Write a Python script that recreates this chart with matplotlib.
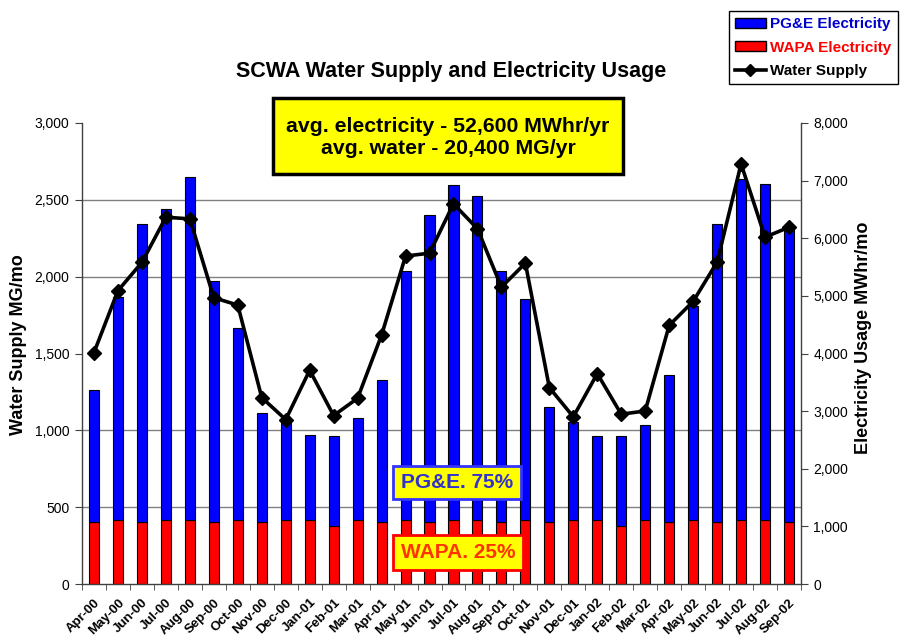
"""
SCWA water supply vs. electricity usage, Apr-2000 .. Sep-2002.

Stacked monthly electricity (WAPA + PG&E, right axis) with the monthly
water supply line on the left axis.  Writes out.png.
"""

import numpy as np
import matplotlib
matplotlib.use("Agg")           # headless
import matplotlib.pyplot as plt
from matplotlib.lines import Line2D
from matplotlib.patches import Patch, Rectangle
from matplotlib.ticker import FixedLocator, FuncFormatter, MultipleLocator
from matplotlib.transforms import ScaledTranslation

# ── Data ───────────────────────────────────────────────────────────────────
MONTHS = ["Apr-00", "May-00", "Jun-00", "Jul-00", "Aug-00", "Sep-00",
          "Oct-00", "Nov-00", "Dec-00", "Jan-01", "Feb-01", "Mar-01",
          "Apr-01", "May-01", "Jun-01", "Jul-01", "Aug-01", "Sep-01",
          "Oct-01", "Nov-01", "Dec-01", "Jan-02", "Feb-02", "Mar-02",
          "Apr-02", "May-02", "Jun-02", "Jul-02", "Aug-02", "Sep-02"]

# electricity, MWhr/mo
WAPA_MWH = [1070, 1110, 1070, 1110, 1110, 1070, 1110, 1070, 1110, 1110,
            1000, 1110, 1070, 1110, 1070, 1110, 1110, 1070, 1110, 1070,
            1110, 1110, 1000, 1110, 1070, 1110, 1070, 1110, 1110, 1070]
PGE_MWH = [2292, 3869, 5169, 5389, 5961, 4193, 3339, 1906, 1680, 1484,
           1571, 1773, 2471, 4320, 5325, 5810, 5626, 4360, 3835, 2003,
           1709, 1455, 1577, 1651, 2564, 3720, 5181, 5921, 5834, 5146]

# water supply, MG/mo
WATER_MG = [1506, 1909, 2093, 2387, 2376, 1863, 1815, 1213, 1070, 1391,
            1096, 1209, 1620, 2134, 2153, 2474, 2312, 1932, 2088, 1278,
            1088, 1369, 1105, 1126, 1683, 1839, 2095, 2734, 2257, 2322]

AVG_TEXT = "avg. electricity - 52,600 MWhr/yr\navg. water - 20,400 MG/yr"
PGE_SHARE = "PG&E. 75%"
WAPA_SHARE = "WAPA. 25%"

# ── Style ──────────────────────────────────────────────────────────────────
W, H = 901, 639
BLUE = "#0000FF"
RED = "#FF0000"
YELLOW = "#FFFF00"
AXIS_COL = "#404040"
GRID_COL = "#808080"

plt.rcParams["font.family"] = ["Liberation Sans", "DejaVu Sans"]


def fig_box(fig, x0, y0, x1, y1, edge, lw=2.0):
    """Yellow rectangle given in pixel coords (top-left origin)."""
    rect = Rectangle((x0 / W, 1 - y1 / H), (x1 - x0) / W, (y1 - y0) / H,
                     transform=fig.transFigure, facecolor=YELLOW,
                     edgecolor=edge, linewidth=lw, zorder=5)
    fig.add_artist(rect)


def fig_text(fig, x, y, s, **kw):
    fig.text(x / W, 1 - y / H, s, ha="center", va="center",
             fontweight="bold", zorder=6, **kw)


def main() -> None:
    fig = plt.figure(figsize=(W / 100, H / 100), dpi=100)
    fig.patch.set_facecolor("white")

    ax = fig.add_axes([82 / W, 1 - 584 / H, 719 / W, 461 / H])
    ax2 = ax.twinx()
    # line (left axis) has to sit on top of the bars (right axis)
    ax.set_zorder(ax2.get_zorder() + 1)
    ax.patch.set_visible(False)

    x = np.arange(len(MONTHS))

    # ── electricity bars ──
    ax2.bar(x, WAPA_MWH, width=0.42, color=RED, edgecolor="black",
            linewidth=0.8, zorder=2)
    ax2.bar(x, PGE_MWH, width=0.42, bottom=WAPA_MWH, color=BLUE,
            edgecolor="black", linewidth=0.8, zorder=2)
    ax2.set_ylim(0, 8000)
    ax2.yaxis.set_major_locator(MultipleLocator(1000))
    ax2.yaxis.set_major_formatter(FuncFormatter(lambda v, _: f"{v:,.0f}"))
    # gridlines follow the left axis steps (500 MG == 1333 MWhr)
    ax2.yaxis.set_minor_locator(FixedLocator(np.linspace(0, 8000, 7)))
    ax2.grid(which="minor", axis="y", color=GRID_COL, linewidth=1.0, zorder=0)
    ax2.set_axisbelow(True)
    ax2.tick_params(axis="y", which="major", direction="out", length=5,
                    color=AXIS_COL, labelsize=10, pad=4)
    ax2.tick_params(axis="y", which="minor", length=0)
    ax2.set_ylabel("Electricity Usage MWhr/mo", fontsize=13,
                   fontweight="bold")
    ax2.yaxis.set_label_coords(1.075, 0.535)

    # ── water line ──
    ax.plot(x, WATER_MG, color="black", linewidth=2.6, marker="D",
            markersize=7.5, markerfacecolor="black", zorder=4, clip_on=False)
    ax.set_ylim(0, 3000)
    ax.yaxis.set_major_locator(MultipleLocator(500))
    ax.yaxis.set_major_formatter(FuncFormatter(lambda v, _: f"{v:,.0f}"))
    ax.tick_params(axis="y", direction="out", length=5, color=AXIS_COL,
                   labelsize=10, pad=4)
    ax.set_ylabel("Water Supply MG/mo", fontsize=13, fontweight="bold")
    ax.yaxis.set_label_coords(-0.077, 0.52)

    # categories: labels at centres, tick marks between
    ax.set_xlim(-0.5, len(MONTHS) - 0.5)
    ax.set_xticks(x)
    ax.set_xticklabels(MONTHS, rotation=45, ha="right",
                       rotation_mode="anchor", fontsize=9.5,
                       fontweight="bold")
    shift = ScaledTranslation(-6 / 72, 0, fig.dpi_scale_trans)
    for lbl in ax.get_xticklabels():
        lbl.set_transform(lbl.get_transform() + shift)
    ax.xaxis.set_minor_locator(FixedLocator(np.arange(len(MONTHS) + 1) - 0.5))
    ax.tick_params(axis="x", which="major", length=0, pad=9)
    ax.tick_params(axis="x", which="minor", direction="out", length=4,
                   color=AXIS_COL)

    for a in (ax, ax2):
        a.spines["top"].set_visible(False)
    ax.spines["right"].set_visible(False)
    ax2.spines["left"].set_visible(False)
    ax2.spines["bottom"].set_visible(False)
    for s in (ax.spines["left"], ax.spines["bottom"], ax2.spines["right"]):
        s.set_color(AXIS_COL)
        s.set_linewidth(1.0)

    # ── title / legend ──
    fig_text(fig, 451, 72, "SCWA Water Supply and Electricity Usage",
             fontsize=15.5)

    handles = [Patch(facecolor=BLUE, edgecolor="black"),
               Patch(facecolor=RED, edgecolor="black"),
               Line2D([], [], color="black", linewidth=2.6, marker="D",
                      markersize=6)]
    leg = fig.legend(handles, ["PG&E Electricity", "WAPA Electricity",
                               "Water Supply"],
                     loc="upper left", bbox_to_anchor=(729 / W, 1 - 11 / H),
                     borderaxespad=0, frameon=True, fancybox=False,
                     framealpha=1, edgecolor="black",
                     prop={"weight": "bold", "size": 11},
                     labelcolor=["#0000CC", RED, "black"],
                     handlelength=2.0, handleheight=0.6, labelspacing=0.62,
                     borderpad=0.4, handletextpad=0.3)
    leg.get_frame().set_linewidth(1.0)

    # ── annotation boxes ──
    fig_box(fig, 273, 98, 623, 174, "black", lw=2.5)
    fig_text(fig, 448, 137, AVG_TEXT, fontsize=15.3, linespacing=1.2,
             color="black")

    fig_box(fig, 393, 466, 521, 499, "#3333FF")
    fig_text(fig, 457, 483, PGE_SHARE, fontsize=15, color="#3333CC")

    fig_box(fig, 393, 535, 523, 570, RED)
    fig_text(fig, 458, 553, WAPA_SHARE, fontsize=15, color="#FF3300")

    fig.savefig("out.png", dpi=100)
    plt.close(fig)


if __name__ == "__main__":
    main()
